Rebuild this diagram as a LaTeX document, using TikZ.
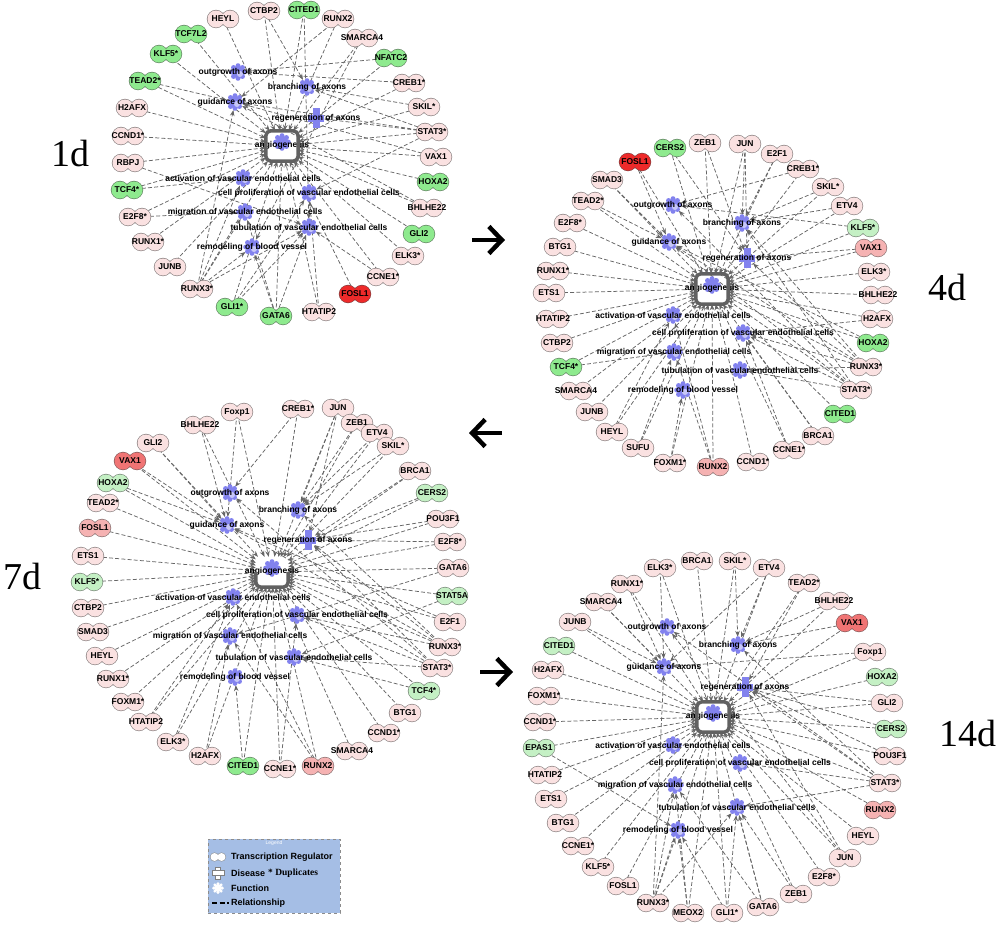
\documentclass[tikz,border=0pt]{standalone}
\usepackage{fontspec}
\setmainfont{Liberation Sans}
\newfontfamily\daysfont{Liberation Serif}
\usetikzlibrary{arrows.meta}
\pgfdeclarelayer{bg}
\pgfsetlayers{bg,main}

\definecolor{tfpink}{HTML}{FAE1E1}
\definecolor{tfgreen}{HTML}{8EEA8E}
\definecolor{tfpale}{HTML}{C4F0C4}
\definecolor{tfred}{HTML}{EE2A2A}
\definecolor{tfsalmon}{HTML}{F07474}
\definecolor{tfrose}{HTML}{F5B2B2}
\definecolor{fnblue}{HTML}{8282EE}
\definecolor{relgray}{HTML}{666666}
\definecolor{legblue}{HTML}{A5BEE5}

\tikzset{
  tf/.style={circle,minimum size=17pt,inner sep=0pt},
  tftext/.style={font=\bfseries\fontsize{8.5}{9}\selectfont,inner sep=0pt},
  fn/.style={circle,minimum size=16pt,inner sep=0pt},
  fntext/.style={font=\bfseries\fontsize{8.5}{9}\selectfont,inner sep=0pt},
  angbox/.style={rectangle,minimum width=32pt,minimum height=30pt,inner sep=0pt},
  angloop/.style={draw=black!62,line width=3.5pt,rounded corners=5pt},
  rel/.style={draw=relgray,line width=0.75pt,dash pattern=on 4pt off 2.2pt,-{Stealth[length=6pt,width=4.6pt]}},
  daylabel/.style={font=\daysfont\fontsize{38}{38}\selectfont,inner sep=0pt},
  bigarrow/.style={line width=4.5pt,-{Straight Barb[length=13pt,width=27pt]}},
  legbox/.style={rectangle,draw=black!45,fill=legblue,dashed,minimum width=132pt,minimum height=74pt},
  legtext/.style={font=\bfseries\fontsize{9}{9}\selectfont,inner sep=0pt,anchor=west},
}

% transcription regulator: name, text, colour, x, y
\newcommand{\tfnode}[5]{%
  \node[tf] (#1) at (#4,#5) {};
  \draw[draw=#3!45!black!80,line width=1.3pt] ([xshift=-7pt]#1.center) circle (8.5pt) ([xshift=7pt]#1.center) circle (8.5pt);
  \fill[fill=#3] ([xshift=-7pt]#1.center) circle (8.5pt) ([xshift=7pt]#1.center) circle (8.5pt);
  \node[tftext] at (#1.center) {#2};
}
% function: name, text, x, y
\newcommand{\fnnode}[4]{%
  \node[fn] (#1) at (#3,#4) {};
  \fill[fnblue] (#1.center) circle (6pt);
  \foreach \a in {0,45,...,315} \fill[fnblue] ([shift={(\a:6.3pt)}]#1.center) circle (2.5pt);
  \fill[fnblue!45!white] ([shift={(2pt,-2pt)}]#1.center) circle (3pt);
  \node[fntext] at (#1.center) {#2};
}
% disease: name, text, x, y
\newcommand{\disnode}[4]{%
  \node[fn] (#1) at (#3,#4) {};
  \fill[fnblue] ([shift={(-3.5pt,-10pt)}]#1.center) rectangle ([shift={(3.5pt,10pt)}]#1.center);
  \fill[fnblue] ([shift={(-8pt,-3.5pt)}]#1.center) rectangle ([shift={(8pt,3.5pt)}]#1.center);
  \node[fntext] at (#1.center) {#2};
}
% angiogenesis: name, x, y
\newcommand{\angnode}[3]{%
  \node[angbox] (#1) at (#2,#3+4) {};
  \fill[fnblue] (#2,#3) circle (6pt);
  \foreach \a in {0,45,...,315} \fill[fnblue] ([shift={(\a:6.3pt)}]#2,#3) circle (2.5pt);
  \node[fntext] at (#2,#3+3) {angiogenesis};
}

\def\genesA{HEYL/HEYL/tfpink/223/19, CTBP2/CTBP2/tfpink/264/11, CITED1/CITED1/tfgreen/304/10,
  RUNX2/RUNX2/tfpink/338/19, SMARCA4/SMARCA4/tfpink/362/38, NFATC2/NFATC2/tfgreen/391/58,
  CREB1/CREB1*/tfpink/409/83, SKIL/SKIL*/tfpink/424/107, STAT3/STAT3*/tfpink/432/132,
  VAX1/VAX1/tfpink/436/157, HOXA2/HOXA2/tfgreen/433/182, BHLHE22/BHLHE22/tfpink/427/208,
  GLI2/GLI2/tfgreen/419/234, ELK3/ELK3*/tfpink/408/256, CCNE1/CCNE1*/tfpink/383/277,
  FOSL1/FOSL1/tfred/355/294, HTATIP2/HTATIP2/tfpink/319/312, GATA6/GATA6/tfgreen/276/316,
  GLI1/GLI1*/tfgreen/232/307, RUNX3/RUNX3*/tfpink/197/289, JUNB/JUNB/tfpink/170/267,
  RUNX1/RUNX1*/tfpink/148/242, E2F8/E2F8*/tfpink/135/217, TCF4/TCF4*/tfgreen/127/190,
  RBPJ/RBPJ/tfpink/128/163, CCND1/CCND1*/tfpink/128/136, H2AFX/H2AFX/tfpink/132/108,
  TEAD2/TEAD2*/tfgreen/145/81, KLF5/KLF5*/tfgreen/166/54, TCF7L2/TCF7L2/tfgreen/191/34}
\def\genesB{ZEB1/ZEB1/tfpink/705/143, JUN/JUN/tfpink/745/144, E2F1/E2F1/tfpink/777/154,
  CREB1/CREB1*/tfpink/803/169, SKIL/SKIL*/tfpink/828/187, ETV4/ETV4/tfpink/847/206,
  KLF5/KLF5*/tfpale/863/228, VAX1/VAX1/tfrose/871/248, ELK3/ELK3*/tfpink/874/272,
  BHLHE22/BHLHE22/tfpink/878/295, H2AFX/H2AFX/tfpink/877/319, HOXA2/HOXA2/tfgreen/873/343,
  RUNX3/RUNX3*/tfpink/866/367, STAT3/STAT3*/tfpink/856/390, CITED1/CITED1/tfgreen/840/414,
  BRCA1/BRCA1/tfpink/818/436, CCNE1/CCNE1*/tfpink/789/450, CCND1/CCND1*/tfpink/753/462,
  RUNX2/RUNX2/tfrose/713/467, FOXM1/FOXM1*/tfpink/670/463, SUFU/SUFU/tfpink/638/448,
  HEYL/HEYL/tfpink/612/432, JUNB/JUNB/tfpink/592/412, SMARCA4/SMARCA4/tfpink/576/391,
  TCF4/TCF4*/tfgreen/566/367, CTBP2/CTBP2/tfpink/557/343, HTATIP2/HTATIP2/tfpink/553/319,
  ETS1/ETS1/tfpink/549/293, RUNX1/RUNX1*/tfpink/553/271, BTG1/BTG1/tfpink/560/247,
  E2F8/E2F8*/tfpink/570/223, TEAD2/TEAD2*/tfpink/588/201, SMAD3/SMAD3/tfpink/607/180,
  FOSL1/FOSL1/tfred/635/162, CERS2/CERS2/tfgreen/670/148}
\def\genesC{GLI2/GLI2/tfpink/153/443, BHLHE22/BHLHE22/tfpink/200/425, Foxp1/Foxp1/tfpink/237/412,
  CREB1/CREB1*/tfpink/298/409, JUN/JUN/tfpink/338/408, ZEB1/ZEB1/tfpink/357/423,
  ETV4/ETV4/tfpink/377/433, SKIL/SKIL*/tfpink/393/446, BRCA1/BRCA1/tfpink/415/471,
  CERS2/CERS2/tfpale/432/493, POU3F1/POU3F1/tfpink/443/519, E2F8/E2F8*/tfpink/450/542,
  GATA6/GATA6/tfpink/453/568, STAT5A/STAT5A/tfpale/452/596, E2F1/E2F1/tfpink/450/622,
  RUNX3/RUNX3*/tfpink/445/647, STAT3/STAT3*/tfpink/437/668, TCF4/TCF4*/tfpale/424/691,
  BTG1/BTG1/tfpink/405/713, CCND1/CCND1*/tfpink/384/733, SMARCA4/SMARCA4/tfpink/352/751,
  RUNX2/RUNX2/tfrose/318/766, CCNE1/CCNE1*/tfpink/280/769, CITED1/CITED1/tfgreen/243/766,
  H2AFX/H2AFX/tfpink/205/756, ELK3/ELK3*/tfpink/173/742, HTATIP2/HTATIP2/tfpink/146/722,
  FOXM1/FOXM1*/tfpink/128/702, RUNX1/RUNX1*/tfpink/113/679, HEYL/HEYL/tfpink/102/656,
  SMAD3/SMAD3/tfpink/93/632, CTBP2/CTBP2/tfpink/88/608, KLF5/KLF5*/tfpale/87/582,
  ETS1/ETS1/tfpink/88/556, FOSL1/FOSL1/tfrose/95/528, TEAD2/TEAD2*/tfpink/103/503,
  HOXA2/HOXA2/tfpale/113/483, VAX1/VAX1/tfsalmon/130/461}
\def\genesD{ELK3/ELK3*/tfpink/660/568, BRCA1/BRCA1/tfpink/697/561, SKIL/SKIL*/tfpink/735/561,
  ETV4/ETV4/tfpink/769/568, TEAD2/TEAD2*/tfpink/804/583, BHLHE22/BHLHE22/tfpink/834/601,
  VAX1/VAX1/tfsalmon/852/623, Foxp1/Foxp1/tfpink/870/652, HOXA2/HOXA2/tfpale/882/677,
  GLI2/GLI2/tfpink/887/703, CERS2/CERS2/tfpale/891/729, POU3F1/POU3F1/tfpink/890/756,
  STAT3/STAT3*/tfpink/885/783, RUNX2/RUNX2/tfrose/880/810, HEYL/HEYL/tfpink/863/836,
  JUN/JUN/tfpink/845/858, E2F8/E2F8*/tfpink/824/877, ZEB1/ZEB1/tfpink/796/894,
  GATA6/GATA6/tfpink/763/907, GLI1/GLI1*/tfpink/727/913, MEOX2/MEOX2/tfpink/688/913,
  RUNX3/RUNX3*/tfpink/653/903, FOSL1/FOSL1/tfpink/623/886, KLF5/KLF5*/tfpink/598/867,
  CCNE1/CCNE1*/tfpink/578/846, BTG1/BTG1/tfpink/563/823, ETS1/ETS1/tfpink/551/799,
  HTATIP2/HTATIP2/tfpink/545/775, EPAS1/EPAS1/tfpale/539/748, CCND1/CCND1*/tfpink/540/722,
  FOXM1/FOXM1*/tfpink/544/696, H2AFX/H2AFX/tfpink/548/670, CITED1/CITED1/tfpale/559/646,
  JUNB/JUNB/tfpink/575/622, SMARCA4/SMARCA4/tfpink/601/602, RUNX1/RUNX1*/tfpink/627/584}

\begin{document}
\begin{tikzpicture}[x=1pt,y=-1pt]
\begin{pgfonlayer}{bg}
\fill[white] (0,0) rectangle (1000,924);
\end{pgfonlayer}
\useasboundingbox (0,0) rectangle (1000,924);

% ---- 1d
\fnnode{aout}{outgrowth of axons}{238}{72}
\fnnode{abra}{branching of axons}{307}{87}
\fnnode{agui}{guidance of axons}{235}{102}
\disnode{areg}{regeneration of axons}{316}{118}
\angnode{aang}{282}{142}
\draw[angloop] (aang.south west) rectangle (aang.north east);
\fnnode{aact}{activation of vascular endothelial cells}{243}{178}
\fnnode{apro}{cell proliferation of vascular endothelial cells}{309}{193}
\fnnode{amig}{migration of vascular endothelial cells}{245}{212}
\fnnode{atub}{tubulation of vascular endothelial cells}{309}{227}
\fnnode{arem}{remodeling of blood vessel}{252}{247}
\foreach \n/\t/\c/\x/\y in \genesA {\tfnode{a\n}{\t}{\c}{\x}{\y}}
\begin{pgfonlayer}{bg}
\foreach \n/\t/\c/\x/\y in \genesA \draw[rel] (a\n) -- (aang);
\foreach \g/\f in {NFATC2/out, CREB1/out, SKIL/bra, STAT3/gui, STAT3/bra, STAT3/reg, STAT3/pro,
  RUNX2/gui, CITED1/tub, CTBP2/bra, VAX1/gui, RBPJ/tub, RUNX3/gui, RUNX3/act, RUNX3/mig,
  RUNX3/rem, RUNX3/tub, GATA6/rem, GATA6/tub, GATA6/mig, GLI1/tub, GLI1/pro, HTATIP2/pro,
  TCF4/act, E2F8/mig, TEAD2/gui, CCNE1/tub, BHLHE22/gui, SMARCA4/rem}
  \draw[rel] (a\g) -- (a\f);
\end{pgfonlayer}
\node[daylabel] (lab1d) at (70,153) {1d};

% ---- 4d
\fnnode{bout}{outgrowth of axons}{673}{205}
\fnnode{bbra}{branching of axons}{742}{223}
\fnnode{bgui}{guidance of axons}{669}{242}
\disnode{breg}{regeneration of axons}{747}{258}
\angnode{bang}{712}{285}
\draw[angloop] (bang.south west) rectangle (bang.north east);
\fnnode{bact}{activation of vascular endothelial cells}{673}{315}
\fnnode{bpro}{cell proliferation of vascular endothelial cells}{743}{333}
\fnnode{bmig}{migration of vascular endothelial cells}{674}{352}
\fnnode{btub}{tubulation of vascular endothelial cells}{740}{370}
\fnnode{brem}{remodeling of blood vessel}{683}{390}
\foreach \n/\t/\c/\x/\y in \genesB {\tfnode{b\n}{\t}{\c}{\x}{\y}}
\begin{pgfonlayer}{bg}
\foreach \n/\t/\c/\x/\y in \genesB \draw[rel] (b\n) -- (bang);
\foreach \g/\f in {ETV4/bra, SKIL/bra, CREB1/out, E2F1/bra, JUN/bra, JUN/reg, ZEB1/reg,
  CERS2/reg, FOSL1/gui, SMAD3/gui, TEAD2/gui, KLF5/out, VAX1/reg, RUNX3/gui, RUNX3/bra,
  RUNX3/reg, RUNX3/pro, RUNX3/tub, STAT3/gui, STAT3/bra, STAT3/pro, STAT3/tub, STAT3/out,
  H2AFX/pro, HOXA2/gui, RUNX2/act, RUNX2/mig, FOXM1/rem, SUFU/mig, HEYL/act, BRCA1/pro,
  CCNE1/pro, TCF4/mig}
  \draw[rel] (b\g) -- (b\f);
\end{pgfonlayer}
\node[daylabel] (lab4d) at (947,287) {4d};

% ---- 7d
\fnnode{cout}{outgrowth of axons}{230}{493}
\fnnode{cbra}{branching of axons}{298}{510}
\fnnode{cgui}{guidance of axons}{227}{525}
\disnode{creg}{regeneration of axons}{308}{540}
\angnode{cang}{272}{568}
\draw[angloop] (cang.west) -- (cang.south west) -- (cang.south east) -- (cang.east);
\fnnode{cact}{activation of vascular endothelial cells}{233}{597}
\fnnode{cpro}{cell proliferation of vascular endothelial cells}{297}{615}
\fnnode{cmig}{migration of vascular endothelial cells}{230}{636}
\fnnode{ctub}{tubulation of vascular endothelial cells}{294}{657}
\fnnode{crem}{remodeling of blood vessel}{235}{677}
\foreach \n/\t/\c/\x/\y in \genesC {\tfnode{c\n}{\t}{\c}{\x}{\y}}
\begin{pgfonlayer}{bg}
\foreach \n/\t/\c/\x/\y in \genesC \draw[rel] (c\n) -- (cang);
\foreach \g/\f in {GLI2/gui, VAX1/gui, HOXA2/gui, BHLHE22/gui, Foxp1/gui, CREB1/out, JUN/bra,
  JUN/reg, ZEB1/bra, ETV4/bra, SKIL/bra, BRCA1/reg, CERS2/reg, POU3F1/reg, E2F8/reg,
  RUNX3/gui, RUNX3/bra, RUNX3/reg, RUNX3/pro, STAT3/out, STAT3/reg, STAT3/tub, STAT3/pro,
  E2F1/gui, STAT5A/tub, GATA6/mig, RUNX2/mig, RUNX2/act, CITED1/rem, H2AFX/mig, TCF4/tub,
  CCNE1/pro, ELK3/act, HTATIP2/act}
  \draw[rel] (c\g) -- (c\f);
\end{pgfonlayer}
\node[daylabel] (lab7d) at (22,576) {7d};

% ---- 14d
\fnnode{dout}{outgrowth of axons}{667}{627}
\fnnode{dbra}{branching of axons}{738}{645}
\fnnode{dgui}{guidance of axons}{664}{667}
\disnode{dreg}{regeneration of axons}{745}{687}
\angnode{dang}{713}{713}
\draw[angloop] (dang.south west) rectangle (dang.north east);
\fnnode{dact}{activation of vascular endothelial cells}{673}{745}
\fnnode{dpro}{cell proliferation of vascular endothelial cells}{740}{763}
\fnnode{dmig}{migration of vascular endothelial cells}{675}{785}
\fnnode{dtub}{tubulation of vascular endothelial cells}{737}{807}
\fnnode{drem}{remodeling of blood vessel}{678}{830}
\foreach \n/\t/\c/\x/\y in \genesD {\tfnode{d\n}{\t}{\c}{\x}{\y}}
\begin{pgfonlayer}{bg}
\foreach \n/\t/\c/\x/\y in \genesD \draw[rel] (d\n) -- (dang);
\foreach \g/\f in {ELK3/gui, RUNX1/gui, SMARCA4/gui, SKIL/bra, ETV4/bra, ETV4/gui, TEAD2/reg,
  BHLHE22/bra, VAX1/bra, Foxp1/gui, GLI2/reg, CERS2/reg, POU3F1/reg, STAT3/reg, STAT3/bra,
  STAT3/out, STAT3/tub, STAT3/pro, JUN/reg, JUN/out, ZEB1/tub, GATA6/tub, GATA6/mig,
  GLI1/rem, GLI1/tub, MEOX2/rem, MEOX2/mig, RUNX3/gui, RUNX3/rem, RUNX3/tub, RUNX3/mig,
  EPAS1/rem, JUNB/gui}
  \draw[rel] (d\g) -- (d\f);
\end{pgfonlayer}
\node[daylabel] (lab14d) at (968,733) {14d};

% ---- arrows between panels
\coordinate (arr1a) at (472,240); \coordinate (arr1b) at (505,240);
\coordinate (arr2a) at (502,433); \coordinate (arr2b) at (469,433);
\coordinate (arr3a) at (480,672); \coordinate (arr3b) at (513,672);
\draw[bigarrow] (arr1a) -- (arr1b);
\draw[bigarrow] (arr2a) -- (arr2b);
\draw[bigarrow] (arr3a) -- (arr3b);

% ---- legend
\node[legbox] (legend) at (274,876) {};
\node[font=\fontsize{5}{5}\selectfont,text=white,inner sep=0pt] (legtitle) at (274,843) {Legend};
\node[inner sep=0pt,minimum size=10pt] (legtf) at (218,857) {};
\draw[black!45,line width=1pt] ([xshift=-3.5pt]legtf.center) circle (4pt) ([xshift=3.5pt]legtf.center) circle (4pt);
\fill[white] ([xshift=-3.5pt]legtf.center) circle (4pt) ([xshift=3.5pt]legtf.center) circle (4pt);
\node[legtext] (legtfl) at (231,857) {Transcription Regulator};
\node[inner sep=0pt,minimum size=10pt] (legdis) at (218,873) {};
\draw[black!50,fill=white] ([shift={(-2.5pt,-6pt)}]legdis.center) rectangle ([shift={(2.5pt,6pt)}]legdis.center);
\draw[black!50,fill=white] ([shift={(-6pt,-2.5pt)}]legdis.center) rectangle ([shift={(6pt,2.5pt)}]legdis.center);
\fill[white] ([shift={(-2pt,-2pt)}]legdis.center) rectangle ([shift={(2pt,2pt)}]legdis.center);
\node[legtext] (legdisl) at (231,873) {Disease};
\node[legtext,font=\daysfont\bfseries\fontsize{9.5}{9.5}\selectfont] (legdup) at (268,873) {* Duplicates};
\node[inner sep=0pt,minimum size=10pt] (legfn) at (218,888) {};
\fill[white] (legfn.center) circle (4pt);
\foreach \a in {0,45,...,315} \fill[white] ([shift={(\a:4.3pt)}]legfn.center) circle (1.7pt);
\node[legtext] (legfnl) at (231,888) {Function};
\coordinate (legrela) at (212,903); \coordinate (legrelb) at (229,903);
\draw[black,line width=1.2pt,dash pattern=on 5pt off 2.5pt] (legrela) -- (legrelb);
\node[legtext] (legrell) at (231,903) {Relationship};
\end{tikzpicture}
\end{document}
